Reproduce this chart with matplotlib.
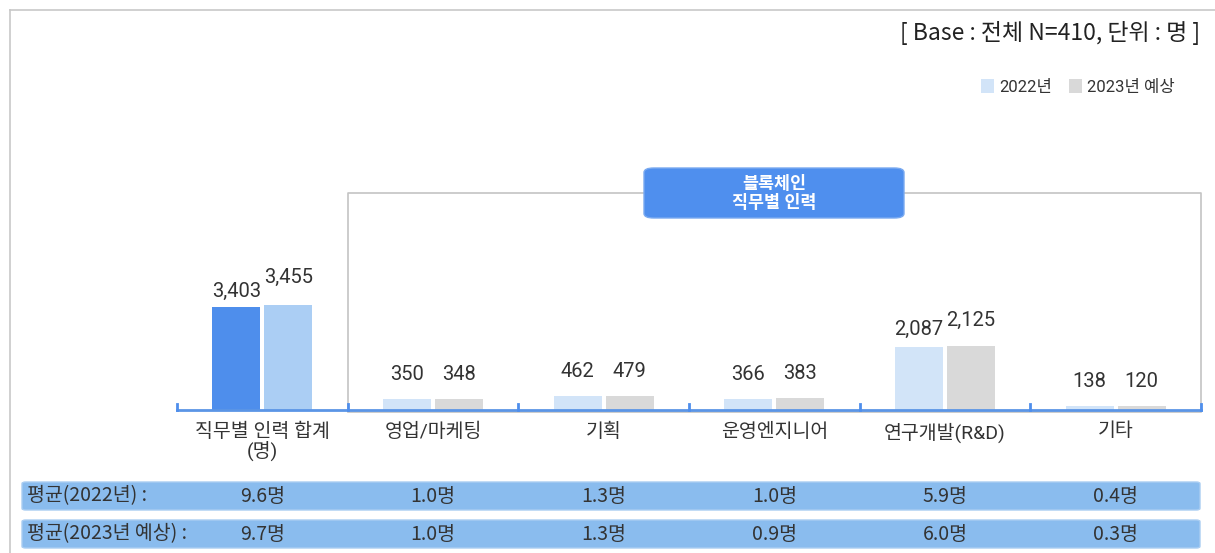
import matplotlib.pyplot as plt
from matplotlib.patches import FancyBboxPatch, Patch
from matplotlib.lines import Line2D
from matplotlib.transforms import blended_transform_factory

plt.rcParams['font.family'] = ['Roboto', 'Noto Sans CJK KR', 'DejaVu Sans']

# data
categories = ['직무별 인력 합계\n(명)', '영업/마케팅', '기획', '운영엔지니어', '연구개발(R&D)', '기타']
v2022 = [3403, 350, 462, 366, 2087, 138]
v2023 = [3455, 348, 479, 383, 2125, 120]
avg2022 = ['9.6명', '1.0명', '1.3명', '1.0명', '5.9명', '0.4명']
avg2023 = ['9.7명', '1.0명', '1.3명', '0.9명', '6.0명', '0.3명']
series_names = ['2022년', '2023년 예상']
row_names = ['평균(2022년) :', '평균(2023년 예상) :']

# colours
c_total22 = '#4E8EEC'
c_total23 = '#ABCEF4'
c_22 = '#D2E4F8'
c_23 = '#D9D9D9'
c_band = '#8ABCEE'
txt = '#333333'

W, H = 1215, 553
fig = plt.figure(figsize=(W / 100, H / 100), dpi=100)
ax = fig.add_axes([177 / W, 1 - 410 / H, 1024 / W, 260 / H])
ax.set_zorder(3)
ax.patch.set_visible(False)

x = list(range(len(categories)))
bw = 0.281
off = 0.152
cols22 = [c_total22] + [c_22] * (len(x) - 1)
cols23 = [c_total23] + [c_23] * (len(x) - 1)
b1 = ax.bar([i - off for i in x], v2022, width=bw, color=cols22, zorder=3)
b2 = ax.bar([i + off for i in x], v2023, width=bw, color=cols23, zorder=3)

# value labels (pixel offsets above the bar tops)
pad22 = [6, 15, 15, 15, 8, 15]
pad23 = [19, 15, 15, 15, 16, 15]
for rects, vals, pads in [(b1, v2022, pad22), (b2, v2023, pad23)]:
    for r, v, p in zip(rects, vals, pads):
        ax.annotate(f'{v:,}', (r.get_x() + r.get_width() / 2, r.get_height()),
                    xytext=(0, p * 0.72), textcoords='offset points',
                    ha='center', va='bottom', fontsize=14.5, color=txt)

ax.set_xlim(-0.5, 5.5)
ax.set_ylim(0, 8590)
ax.set_xticks(x)
ax.set_xticklabels(categories, fontsize=14, color=txt, linespacing=1.0)
ax.tick_params(axis='x', length=0, pad=9)
ax.set_yticks([])
for s in ax.spines.values():
    s.set_visible(False)

# blue baseline with small boundary ticks
trans = blended_transform_factory(ax.transData, ax.transAxes)
ax.plot([-0.5, 5.5], [0, 0], color='#5B95E6', lw=2, transform=trans, clip_on=False, zorder=4)
for b in [-0.5, 0.5, 1.5, 2.5, 3.5, 4.5, 5.5]:
    ax.plot([b, b], [0, 0.025], color='#4E8EEC', lw=2, transform=trans, clip_on=False, zorder=4)

# bracket around blockchain categories
btop = 0.835
ax.plot([0.5, 0.5, 5.5, 5.5], [-0.004, btop, btop, -0.004], color='#C4C4C4', lw=1.2,
        transform=trans, clip_on=False, zorder=2)
ax.plot([0.5, 5.5], [-0.008, -0.008], color='#C4C4C4', lw=1.2, transform=trans, clip_on=False, zorder=2)
box = FancyBboxPatch((644 / W, 1 - 218 / H), 260 / W, 50 / H,
                     boxstyle='round,pad=0,rounding_size=0.008',
                     transform=fig.transFigure, facecolor='#4F8FEE', edgecolor='#7AAAF0',
                     lw=1, zorder=5)
fig.patches.append(box)
fig.text(774 / W, 1 - 193 / H, '블록체인\n직무별 인력', ha='center', va='center',
         fontsize=12.5, color='white', linespacing=1.2, zorder=6, weight='bold')

# average rows
ftrans = blended_transform_factory(ax.transData, fig.transFigure)
for yc, name, vals in [(496, row_names[0], avg2022), (534, row_names[1], avg2023)]:
    band = FancyBboxPatch((22 / W, 1 - (yc + 14) / H), 1178 / W, 28 / H,
                          boxstyle='round,pad=0,rounding_size=0.003',
                          transform=fig.transFigure, facecolor=c_band,
                          edgecolor='#A9CDF2', lw=1)
    fig.patches.append(band)
    fig.text(27 / W, 1 - yc / H, name, ha='left', va='center', fontsize=14,
             color=txt, family=['Noto Sans CJK KR'])
    for i, v in zip(x, vals):
        ax.text(i, 1 - yc / H, v, transform=ftrans, ha='center', va='center',
                fontsize=14, color=txt, family=['Noto Sans CJK KR'], clip_on=False)

# legend
handles = [Patch(facecolor=c_22), Patch(facecolor=c_23)]
fig.legend(handles, series_names, loc='center right', bbox_to_anchor=(1190 / W, 1 - 87 / H),
           ncol=2, frameon=False, fontsize=12, handlelength=0.8, handleheight=0.9,
           handletextpad=0.3, columnspacing=1.0, labelcolor=txt)

# title note
fig.text(1200 / W, 1 - 33 / H, '[ Base : 전체 N=410, 단위 : 명 ]', ha='right', va='center',
         fontsize=16.5, color='#222222', family=['Noto Sans CJK KR'])

# outer frame
fig.add_artist(Line2D([10 / W, 10 / W], [0, 1 - 10 / H], color='#C8C8C8', lw=1.2,
                      transform=fig.transFigure))
fig.add_artist(Line2D([10 / W, 1], [1 - 10 / H, 1 - 10 / H], color='#C8C8C8', lw=1.2,
                      transform=fig.transFigure))

fig.savefig('out.png', dpi=100)
